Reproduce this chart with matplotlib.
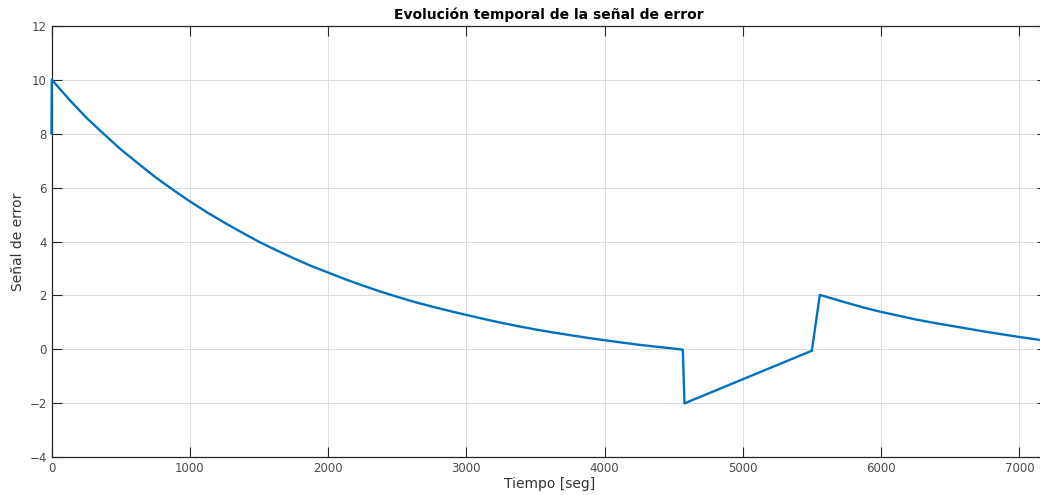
import matplotlib
matplotlib.use("Agg")
import matplotlib.pyplot as plt

# Data
tiempo = [0, 2, 125, 250, 375, 500, 625, 750, 875, 1000, 1125, 1250, 1375,
          1500, 1625, 1750, 1875, 2000, 2125, 2250, 2375, 2500, 2625, 2750,
          2875, 3000, 3125, 3250, 3375, 3500, 3625, 3750, 3875, 4000, 4125,
          4250, 4375, 4500, 4566, 4578,
          5499, 5557, 5650, 5750, 5875, 6000, 6125, 6250, 6375, 6500, 6625,
          6750, 6875, 7000, 7125, 7200]
error = [8.0, 10.0, 9.28, 8.6, 8.0, 7.42, 6.9, 6.39, 5.93, 5.49, 5.08, 4.70, 4.34,
         3.99, 3.68, 3.38, 3.10, 2.85, 2.60, 2.37, 2.15, 1.95, 1.76, 1.59,
         1.43, 1.28, 1.13, 0.99, 0.86, 0.74, 0.63, 0.53, 0.43, 0.34, 0.255,
         0.17, 0.10, 0.03, -0.01, -2.0,
         -0.05, 2.02, 1.88, 1.73, 1.55, 1.39, 1.25, 1.11, 0.99, 0.88, 0.77,
         0.66, 0.56, 0.46, 0.37, 0.30]

xticks = [0, 1000, 2000, 3000, 4000, 5000, 6000, 7000]
yticks = [-4, -2, 0, 2, 4, 6, 8, 10, 12]

W, H = 1040, 495
fig = plt.figure(figsize=(W / 100, H / 100), dpi=100)
left = 51.5 / W
right = 1047.0 / W
top = 1 - 25.7 / H
bottom = 1 - 457.3 / H
ax = fig.add_axes([left, bottom, right - left, top - bottom])

ax.plot(tiempo, error, color="#0072BD", linewidth=1.7, zorder=3,
        solid_joinstyle="round", clip_on=False)

ax.set_xlim(0, 7200)
ax.set_ylim(-4, 12)
ax.set_xticks(xticks)
ax.set_yticks(yticks)
ax.grid(True, color="#dcdcdc", linewidth=0.7)
ax.set_axisbelow(True)

tick_color = "#4a4a4a"
ax.tick_params(direction="in", length=7, width=0.8, colors="#262626",
               labelcolor=tick_color, labelsize=8.5,
               top=True, right=True)
for s in ax.spines.values():
    s.set_color("#262626")
    s.set_linewidth(0.9)
    s.set_zorder(2)

ax.set_title("Evolución temporal de la señal de error", fontsize=10,
             fontweight="bold", color="#000000", pad=5)
ax.set_xlabel("Tiempo [seg]", fontsize=10, color="#333333", labelpad=1)
ax.set_ylabel("Señal de error", fontsize=10, color="#333333", labelpad=3)

fig.savefig("out.png", dpi=100)
